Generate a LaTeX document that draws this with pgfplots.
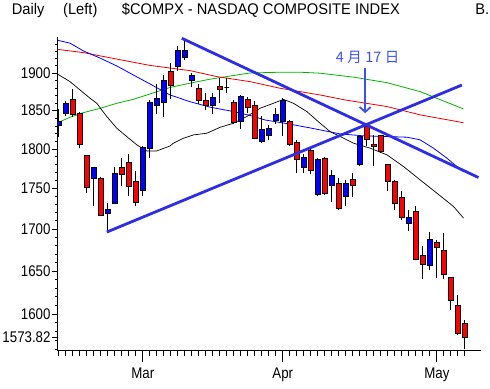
\documentclass[border=0pt]{standalone}
\usepackage{fontspec}
\setmainfont{Liberation Sans}[FakeStretch=0.86]
\newfontfamily\titlefont{Liberation Sans}[FakeStretch=0.95]
\newfontfamily\jp{Noto Sans CJK JP}
\usepackage{pgfplots}
\usepackage{pgfplotstable}
\pgfplotsset{compat=1.18}
\usetikzlibrary{arrows.meta}
\definecolor{cred}{RGB}{255,0,0}
\definecolor{cblue}{RGB}{0,0,255}
\definecolor{magreen}{RGB}{0,180,0}
\definecolor{mared}{RGB}{235,0,0}
\definecolor{mablue}{RGB}{0,0,255}
\definecolor{trend}{RGB}{45,45,225}
\definecolor{note}{RGB}{60,80,240}

\pgfplotstableread{
i O H L C
0 1830.6 1852.2 1816.0 1835.1
1 1846.3 1862.9 1843.0 1859.8
2 1865.1 1878.8 1841.6 1844.3
3 1846.3 1848.3 1801.1 1806.6
4 1791.2 1792.0 1744.2 1751.5
5 1763.0 1777.5 1727.6 1775.9
6 1763.0 1765.0 1715.3 1716.6
7 1718.7 1732.0 1697.0 1724.6
8 1731.8 1777.5 1730.6 1769.2
9 1776.7 1788.2 1752.5 1768.0
10 1783.2 1793.4 1740.9 1752.5
11 1759.2 1772.1 1728.5 1732.5
12 1747.4 1803.9 1740.9 1802.3
13 1801.0 1864.2 1789.0 1860.2
14 1856.6 1884.8 1845.6 1866.7
15 1861.0 1897.7 1841.3 1890.9
16 1902.2 1913.6 1865.4 1882.9
17 1908.9 1937.8 1903.1 1930.5
18 1921.8 1944.4 1918.0 1930.5
19 1890.0 1900.8 1881.1 1897.7
20 1879.8 1885.5 1859.1 1864.2
21 1863.3 1873.0 1850.9 1856.3
22 1856.3 1874.0 1845.6 1867.4
23 1882.0 1894.1 1860.6 1878.4
24 1880.8 1893.3 1873.0 1880.8
25 1860.6 1864.2 1832.1 1834.3
26 1835.6 1870.8 1825.6 1869.5
27 1865.4 1868.3 1846.5 1853.6
28 1856.3 1862.0 1812.6 1813.9
29 1809.5 1843.0 1807.8 1824.7
30 1818.2 1831.2 1811.1 1826.9
31 1836.9 1853.1 1832.5 1845.6
32 1835.6 1866.7 1816.9 1863.3
33 1835.6 1837.8 1804.0 1805.3
34 1808.6 1811.7 1770.0 1786.1
35 1776.7 1793.8 1770.0 1789.5
36 1798.0 1801.0 1768.4 1772.5
37 1742.1 1788.2 1740.9 1786.1
38 1788.2 1790.2 1742.1 1744.2
39 1753.4 1773.4 1733.8 1767.1
40 1756.7 1762.9 1723.6 1725.6
41 1739.6 1760.8 1727.6 1755.8
42 1761.7 1770.0 1739.6 1754.2
43 1779.8 1816.9 1778.5 1816.0
44 1829.0 1831.2 1804.0 1811.7
45 1806.6 1818.2 1778.5 1804.0
46 1816.9 1818.2 1794.6 1796.7
47 1779.8 1779.8 1746.2 1758.7
48 1758.7 1760.8 1723.6 1731.0
49 1738.7 1746.2 1711.4 1714.0
50 1706.9 1723.6 1697.2 1713.9
51 1721.5 1727.6 1663.2 1664.0
52 1668.2 1679.0 1640.5 1657.3
53 1656.0 1696.8 1651.4 1688.0
54 1684.0 1687.1 1642.0 1678.4
55 1674.2 1695.2 1640.5 1645.5
56 1642.5 1643.0 1605.0 1615.0
57 1610.0 1621.5 1576.0 1578.4
58 1588.8 1593.6 1560.0 1573.8
}\candles

\pgfplotstableread{
i v
-0.14 1898.6
1.61 1888.6
3.04 1877.5
4.47 1866.4
5.43 1859.8
6.86 1842.1
8.29 1826.9
9.71 1816.0
11.14 1805.3
12.57 1797.6
14.00 1797.6
15.90 1804.0
16.37 1807.5
17.80 1813.9
19.23 1818.2
21.14 1820.4
23.04 1828.2
24.94 1833.4
26.86 1842.1
28.76 1853.2
30.66 1859.8
32.09 1865.1
33.51 1859.8
35.43 1848.7
37.33 1833.4
38.76 1822.5
40.19 1816.0
42.09 1807.5
44.47 1801.0
46.86 1792.5
49.23 1777.6
51.61 1760.8
54.00 1744.1
56.37 1727.6
57.80 1713.4
}\maBlack

\pgfplotstableread{
i v
-0.14 1945.3
1.61 1941.1
3.51 1930.5
5.90 1920.8
8.29 1909.9
10.66 1897.7
13.04 1885.6
15.90 1870.8
18.76 1861.9
21.61 1854.5
24.47 1849.6
27.33 1843.7
29.47 1837.8
32.33 1833.4
36.14 1826.9
40.19 1819.5
43.51 1816.9
46.86 1816.0
49.71 1815.2
51.61 1811.7
53.51 1801.0
55.43 1788.2
56.86 1777.6
57.80 1771.2
}\maBlue

\pgfplotstableread{
i v
-0.14 1932.8
3.51 1928.1
8.51 1918.8
13.04 1910.6
18.76 1903.5
22.57 1895.4
27.33 1888.6
31.61 1879.8
37.33 1870.8
40.90 1864.2
46.86 1855.3
51.61 1844.3
57.80 1834.2
}\maRed

\pgfplotstableread{
i v
-0.14 1834.2
1.61 1841.3
3.51 1847.4
5.90 1852.9
8.29 1859.8
10.66 1865.1
13.04 1872.2
15.90 1880.9
18.76 1886.5
21.61 1891.9
24.47 1896.3
27.33 1900.4
31.61 1901.4
34.47 1901.4
37.33 1900.0
42.09 1894.6
46.86 1887.3
51.61 1875.2
57.80 1852.2
}\maGreen

\begin{document}
\begin{tikzpicture}
\begin{axis}[
  at={(57.7bp,38bp)}, anchor=south west,
  scale only axis, width=423.3bp, height=314.1bp,
  ymode=log, xmin=-0.15, xmax=60.3, ymin=1558.5, ymax=1950,
  axis x line*=bottom, axis y line*=left,
  axis line style={black, line width=0.8bp},
  tick align=outside,
  major tick length=6bp, minor tick length=2.5bp,
  xtick style={black, line width=0.8bp, /pgfplots/major tick length=11.7bp, /pgfplots/minor tick length=5bp},
  ytick style={black, line width=0.8bp},
  xtick={12,32,54}, xticklabels={Mar,Apr,May},
  minor xtick={0,1,...,58},
  ytick={1573.82,1600,1650,1700,1750,1800,1850,1900},
  yticklabels={1573.82,1600,1650,1700,1750,1800,1850,1900},
  minor ytick={1560,1570,...,1940},
  /pgf/number format/assume math mode=true,
  tick label style={font=\fontsize{15.5}{16}\selectfont, black},
  yticklabel style={inner sep=1bp},
  xticklabel style={yshift=-8bp},
  clip=true,
]
\addplot[magreen, line width=0.8bp] table[x=i,y=v]{\maGreen};
\addplot[mared, line width=0.8bp] table[x=i,y=v]{\maRed};
\addplot[mablue, line width=0.8bp] table[x=i,y=v]{\maBlue};
\addplot[black, line width=0.7bp] table[x=i,y=v]{\maBlack};
\pgfplotstablegetrowsof{\candles}
\pgfmathtruncatemacro{\nrows}{\pgfplotsretval-1}
\pgfplotsforeachungrouped \r in {0,...,\nrows}{%
  \pgfplotstablegetelem{\r}{i}\of\candles \let\ci\pgfplotsretval
  \pgfplotstablegetelem{\r}{O}\of\candles \let\co\pgfplotsretval
  \pgfplotstablegetelem{\r}{H}\of\candles \let\ch\pgfplotsretval
  \pgfplotstablegetelem{\r}{L}\of\candles \let\cl\pgfplotsretval
  \pgfplotstablegetelem{\r}{C}\of\candles \let\cc\pgfplotsretval
  \ifdim\cc pt<\co pt \def\cfill{cred}\else\def\cfill{cblue}\fi
  \pgfmathsetmacro{\xl}{\ci-0.33}%
  \pgfmathsetmacro{\xr}{\ci+0.33}%
  \edef\tmp{%
    \noexpand\addplot[black, line width=0.8bp] coordinates {(\ci,\cl) (\ci,\ch)};
    \noexpand\addplot[draw=black, fill=\cfill, line width=0.8bp] coordinates {(\xl,\co) (\xr,\co) (\xr,\cc) (\xl,\cc)} -- cycle;
  }\tmp
}
\addplot[trend, line width=2.8bp] coordinates {(17.57,1948.0) (59.94,1763.7)};
\addplot[trend, line width=2.8bp] coordinates {(6.857,1696.3) (57.57,1884.2)};
\addplot[note, line width=1.8bp, -{Straight Barb[length=5bp,width=11bp]}] coordinates {(43.76,1906.8) (43.76,1846.6)};
\node[note, font=\jp\fontsize{14.5}{15}\selectfont, inner sep=0pt] at (axis cs:44.11,1921.5) {4\hspace{3.5bp}月\hspace{3.5bp}17\hspace{3.5bp}日};
\end{axis}
\begin{scope}[font=\titlefont\fontsize{15.5}{16}\selectfont]
\node[anchor=base west, inner sep=0pt] at (11.7bp,374bp) {Daily};
\node[anchor=base west, inner sep=0pt] at (63bp,374bp) {(Left)};
\node[anchor=base west, inner sep=0pt] at (121.7bp,374bp) {\$COMPX - NASDAQ COMPOSITE INDEX};
\node[anchor=base east, inner sep=0pt] at (489.5bp,374bp) {B.};
\end{scope}
\pgfresetboundingbox
\path[use as bounding box] (0,0) rectangle (490bp,389bp);
\end{tikzpicture}
\end{document}
